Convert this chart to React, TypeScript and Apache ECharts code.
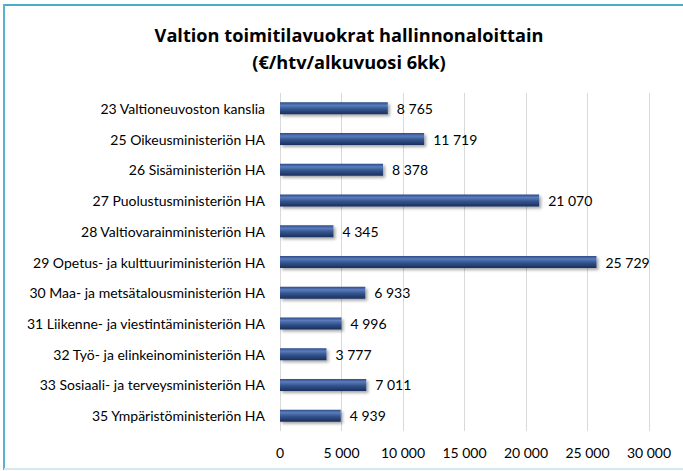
import React, { useEffect, useRef } from "react";
import * as echarts from "echarts";

const categories = [
  "23 Valtioneuvoston kanslia",
  "25 Oikeusministeriön HA",
  "26 Sisäministeriön HA",
  "27 Puolustusministeriön HA",
  "28 Valtiovarainministeriön HA",
  "29 Opetus- ja kulttuuriministeriön HA",
  "30 Maa- ja metsätalousministeriön HA",
  "31 Liikenne- ja viestintäministeriön HA",
  "32 Työ- ja elinkeinoministeriön HA",
  "33 Sosiaali- ja terveysministeriön HA",
  "35 Ympäristöministeriön HA",
];
const values = [8765, 11719, 8378, 21070, 4345, 25729, 6933, 4996, 3777, 7011, 4939];
const titleLines = ["Valtion toimitilavuokrat hallinnonaloittain", "(€/htv/alkuvuosi 6kk)"];

const fmt = (v: number) => String(v).replace(/\B(?=(\d{3})+(?!\d))/g, " ");
const FONT = "Lato, 'Open Sans', sans-serif";
const TFONT = "'Open Sans', Lato, sans-serif";

export default function App() {
  const ref = useRef<HTMLDivElement>(null);
  useEffect(() => {
    if (!ref.current) return;
    const chart = echarts.init(ref.current, null, { renderer: "svg" });
    chart.setOption({
      animation: false,
      backgroundColor: "#ffffff",
      textStyle: { fontFamily: FONT },
      graphic: [
        { type: "line", shape: { x1: 4, y1: 5, x2: 683, y2: 5 }, style: { stroke: "#4bacc6", lineWidth: 2 } },
        { type: "line", shape: { x1: 4, y1: 4, x2: 4, y2: 470 }, style: { stroke: "#5db3cb", lineWidth: 2 } },
        { type: "line", shape: { x1: 4, y1: 469, x2: 683, y2: 469 }, style: { stroke: "#d3eaf1", lineWidth: 2 } },
        {
          type: "text", x: 349, y: 35,
          style: { text: titleLines[0], fontFamily: TFONT, fontWeight: "bold", fontSize: 18.2, fill: "#000", textAlign: "center", textVerticalAlign: "middle" },
        },
        {
          type: "text", x: 349, y: 62,
          style: { text: titleLines[1], fontFamily: TFONT, fontWeight: "bold", fontSize: 18.2, fill: "#000", textAlign: "center", textVerticalAlign: "middle" },
        },
      ],
      grid: { left: 280, right: 34, top: 93, bottom: 40, containLabel: false },
      xAxis: {
        type: "value",
        min: 0,
        max: 30000,
        interval: 5000,
        axisLine: { show: false },
        axisTick: { show: false },
        splitLine: { show: true, lineStyle: { color: "#d9d9d9", width: 1 } },
        axisLabel: { formatter: (v: number) => fmt(v), color: "#000", fontSize: 14, margin: 14, fontFamily: FONT },
      },
      yAxis: {
        type: "category",
        data: categories,
        inverse: true,
        axisLine: { show: false },
        axisTick: { show: false },
        axisLabel: { color: "#000", fontSize: 14, margin: 15, fontFamily: FONT },
      },
      series: [
        {
          type: "bar",
          data: values,
          barWidth: 12,
          itemStyle: {
            color: new echarts.graphic.LinearGradient(0, 0, 0, 1, [
              { offset: 0, color: "#2c4b88" },
              { offset: 0.25, color: "#5b7cbd" },
              { offset: 0.55, color: "#34558f" },
              { offset: 1, color: "#1a2e5a" },
            ]),
            shadowColor: "rgba(0,0,0,0.35)",
            shadowBlur: 3,
            shadowOffsetX: 2,
            shadowOffsetY: 2,
          },
          label: {
            show: true,
            position: "right",
            distance: 9,
            formatter: (p: any) => fmt(p.value),
            color: "#000",
            fontSize: 14,
            fontFamily: FONT,
          },
        },
      ],
    });
    return () => chart.dispose();
  }, []);
  return <div ref={ref} style={{ position: "fixed", left: 0, top: 0, width: 683, height: 471 }} />;
}
